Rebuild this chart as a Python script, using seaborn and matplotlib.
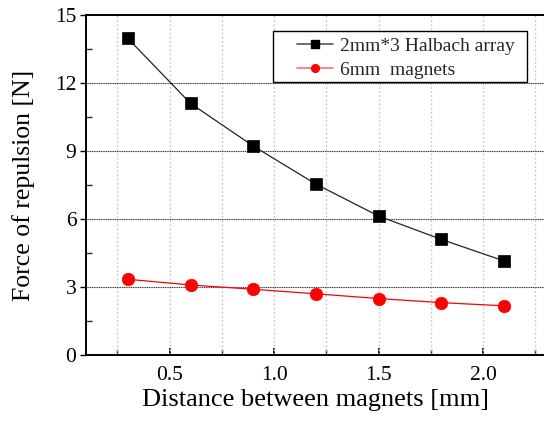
import matplotlib
matplotlib.use("Agg")
import matplotlib.pyplot as plt
from matplotlib.ticker import MultipleLocator
from matplotlib.lines import Line2D
from matplotlib.patches import Rectangle
import seaborn as sns
import pandas as pd

# Measured repulsion force versus gap
distance_mm = [0.3, 0.6, 0.9, 1.2, 1.5, 1.8, 2.1]
halbach_force = [13.97, 11.10, 9.22, 7.54, 6.13, 5.10, 4.15]
magnet_force = [3.34, 3.09, 2.90, 2.70, 2.49, 2.31, 2.17]
series_names = ["2mm*3 Halbach array", "6mm  magnets"]

sns.set_theme(style="white")
plt.rcParams["font.family"] = ["Liberation Serif", "DejaVu Serif"]

df = pd.DataFrame({
    "distance": distance_mm * 2,
    "force": halbach_force + magnet_force,
    "series": [series_names[0]] * len(distance_mm) + [series_names[1]] * len(distance_mm),
})

W, H = 544, 421
fig = plt.figure(figsize=(W / 100, H / 100), dpi=100)
x_lo, x_hi = 0.1, 2.3
left_px, top_px, bottom_px = 86, 15, 355
px_per_unit = 209
ax_w_px = (x_hi - x_lo) * px_per_unit
ax_h_px = bottom_px - top_px
ax = fig.add_axes([left_px / W, 1 - bottom_px / H, ax_w_px / W, ax_h_px / H])

styles = {
    series_names[0]: dict(color="black", marker="s", ms=8.5, lc="#222222", hc="#555555"),
    series_names[1]: dict(color="#ff0000", marker="o", ms=9, lc="#ff0000", hc="#ff7070"),
}
for name in series_names:
    st = styles[name]
    sub = df[df["series"] == name]
    sns.lineplot(data=sub, x="distance", y="force", ax=ax, color=st["lc"],
                 linewidth=0.9, marker=st["marker"], markersize=st["ms"],
                 markerfacecolor=st["color"], markeredgecolor=st["color"],
                 markeredgewidth=0.5, legend=False, zorder=3)

ax.set_xlim(x_lo, x_hi)
ax.set_ylim(0, 15)
ax.xaxis.set_minor_locator(MultipleLocator(0.25))
ax.yaxis.set_major_locator(MultipleLocator(3))
ax.yaxis.set_minor_locator(MultipleLocator(1.5))
ax.set_xticks([0.5, 1.0, 1.5, 2.0])
ax.set_xticklabels(["0.5", "1.0", "1.5", "2.0"])

# grid: dotted light verticals every 0.25, darker horizontals at majors
for xv in [0.25 * k for k in range(1, 10)]:
    if x_lo < xv < x_hi:
        ax.axvline(xv, color="#cccccc", lw=1.0, ls=(0, (1.5, 1.5)), zorder=1)
for yv in [3, 6, 9, 12]:
    ax.axhline(yv, color="#333333", lw=0.8, ls=(0, (1, 0.6)), zorder=1)

for side in ["left", "bottom", "top"]:
    ax.spines[side].set_visible(True)
    ax.spines[side].set_color("black")
    ax.spines[side].set_linewidth(1.4)
ax.spines["right"].set_visible(False)

ax.tick_params(axis="x", which="major", direction="in", length=5, width=1.2,
               labelsize=15.5, pad=8, bottom=True, top=False, colors="black")
ax.tick_params(axis="x", which="minor", direction="in", length=4, width=1.0,
               bottom=True, top=False)
ax.tick_params(axis="y", which="major", direction="out", length=4, width=1.0,
               labelsize=15.5, pad=3, left=True, colors="black")
ax.tick_params(axis="y", which="minor", direction="in", length=4, width=1.0,
               left=True)

ax.set_xlabel("Distance between magnets [mm]", fontsize=19, labelpad=3, color="black")
ax.set_ylabel("Force of repulsion [N]", fontsize=18.5, labelpad=14, color="black")

# legend: entries placed inside a separately drawn frame
box_l, box_t, box_r, box_b = 273, 31, 527, 82
frame = Rectangle(((box_l - left_px) / ax_w_px, 1 - (box_b - top_px) / ax_h_px),
                  (box_r - box_l) / ax_w_px, (box_b - box_t) / ax_h_px,
                  transform=ax.transAxes, facecolor="white", edgecolor="black",
                  linewidth=1.0, zorder=4)
ax.add_patch(frame)

handles = [
    Line2D([], [], color=styles[n]["hc"], lw=1.2, marker=styles[n]["marker"],
           markersize=styles[n]["ms"] * 0.62, markerfacecolor=styles[n]["color"],
           markeredgecolor=styles[n]["color"])
    for n in series_names
]
leg = ax.legend(handles, series_names, loc="upper left",
                bbox_to_anchor=((297 - left_px) / ax_w_px, 1 - (37 - top_px) / ax_h_px),
                fontsize=14, frameon=False, handlelength=1.85, borderpad=0,
                labelspacing=0.35, handletextpad=0.35, borderaxespad=0)
leg.set_zorder(5)

fig.savefig("out.png", dpi=100)
